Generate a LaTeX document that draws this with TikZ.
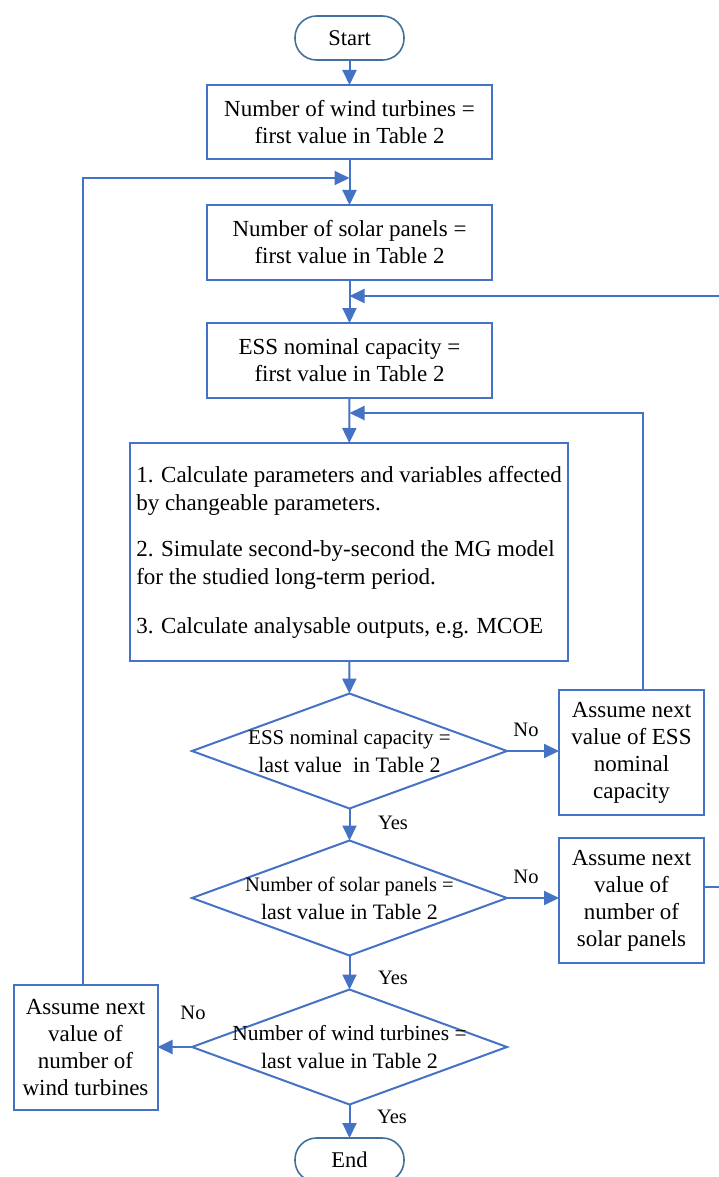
\documentclass[tikz,border=0pt]{standalone}
\usepackage{fontspec}
\setmainfont{Liberation Serif}
\usetikzlibrary{shapes.geometric,arrows.meta}
\definecolor{lb}{HTML}{4472C4}
\definecolor{tb}{HTML}{41719C}
\begin{document}
\begin{tikzpicture}[x=1pt,y=-1pt,
 every node/.style={inner sep=0pt, outer sep=0pt},
 box/.style={draw=lb, line width=2pt, align=center, font=\fontsize{23}{27}\selectfont},
 term/.style={draw=tb, line width=1.6pt, rounded corners=21.5pt, minimum width=109, minimum height=44, font=\fontsize{22.5}{27}\selectfont},
 dia/.style={draw=lb, line width=2pt, shape=diamond, minimum width=315, minimum height=115},
 dtxt/.style={align=center, font=\fontsize{22}{28}\selectfont},
 lab/.style={font=\fontsize{20.5}{24}\selectfont},
 arr/.style={draw=lb, line width=2pt, -{Triangle[length=15pt,width=14pt]}},
]
\useasboundingbox (0,0) rectangle (718,1177);

\node[term] (start) at (349.5,38) {Start};
\node[box, minimum width=285, minimum height=74] (b1) at (349.5,122) {Number of wind turbines =\\first value in Table 2};
\node[box, minimum width=285, minimum height=75] (b2) at (349.5,242.5) {Number of solar panels =\\first value in Table 2};
\node[box, minimum width=285, minimum height=75] (b3) at (349.5,360.5) {ESS nominal capacity =\\first value in Table 2};
\node[box, align=left, minimum width=438, minimum height=218, font=\fontsize{23}{28}\selectfont] (b4) at (349,552) {1. Calculate parameters and variables affected\\by changeable parameters.\\[18pt]2. Simulate second-by-second the MG model\\for the studied long-term period.\\[21pt]3. Calculate analysable outputs, e.g. MCOE};

\node[dia] (d1) at (349.5,751) {};
\node[dtxt] (d1t) at (349.5,751) {{\fontsize{21}{28}\selectfont ESS nominal capacity =}\\last value\ \ in Table 2};
\node[box, minimum width=145, minimum height=125] (b5) at (631.5,752.5) {Assume next\\value of ESS\\nominal\\capacity};

\node[dia] (d2) at (349.5,898) {};
\node[dtxt] (d2t) at (349.5,898) {{\fontsize{20.5}{28}\selectfont Number of solar panels =}\\last value in Table 2};
\node[box, minimum width=145, minimum height=125] (b6) at (631.5,900.5) {Assume next\\value of\\number of\\solar panels};

\node[dia] (d3) at (349.5,1047) {};
\node[dtxt] (d3t) at (349.5,1047) {{\fontsize{21.5}{28}\selectfont Number of wind turbines =}\\last value in Table 2};
\node[box, minimum width=144, minimum height=125] (b7) at (85.5,1047.5) {Assume next\\value of\\number of\\wind turbines};

\node[term] (end) at (349.5,1160) {End};

\coordinate (j1) at (349.5,178);
\coordinate (j2) at (349.5,296);
\coordinate (j3) at (349.5,413);

\draw[arr] (start) -- (b1);
\draw[arr] (b1) -- (b2);
\draw[arr] (b2) -- (b3);
\draw[arr] (b3) -- (b4);
\draw[arr] (b4) -- (d1);
\draw[arr] (d1) -- (d2);
\draw[arr] (d2) -- (d3);
\draw[arr] (d3) -- (end);
\draw[arr] (d1.east) -- (d1.east -| b5.west);
\draw[arr] (d2.east) -- (d2.east -| b6.west);
\draw[arr] (d3.west) -- (d3.west -| b7.east);

\draw[arr] ([xshift=-2.5pt]b7.north) |- (j1);
\draw[arr] ([yshift=13.5pt]b6.east) -- ++(30,0) |- (j2);
\draw[arr] ([xshift=11.5pt]b5.north) |- (j3);

\node[lab] (no1) at (526,730) {No};
\node[lab] (no2) at (526,877) {No};
\node[lab] (no3) at (193,1013) {No};
\node[lab] (y1) at (393,823) {Yes};
\node[lab] (y2) at (393,978) {Yes};
\node[lab] (y3) at (392,1117) {Yes};
\end{tikzpicture}
\end{document}
